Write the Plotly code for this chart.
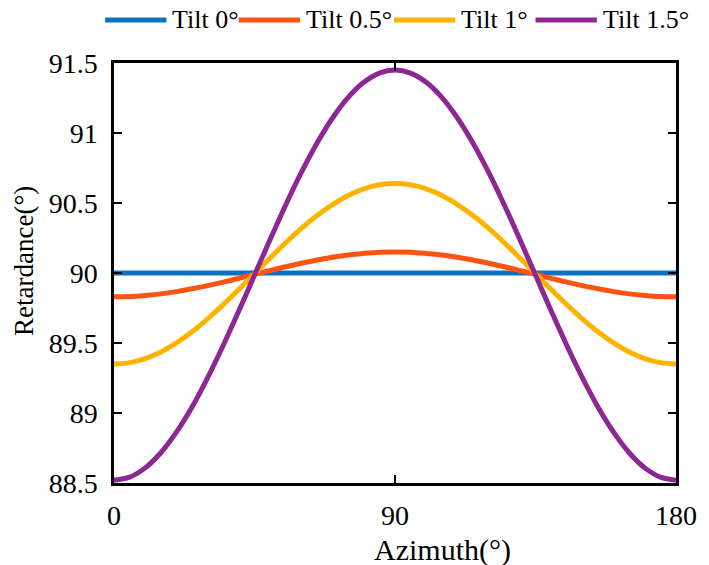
import plotly.graph_objects as go

# Azimuth samples (degrees)
azimuth = [0, 5, 10, 15, 20, 25, 30, 35, 40, 45, 50, 55, 60, 65, 70, 75, 80, 85, 90,
           95, 100, 105, 110, 115, 120, 125, 130, 135, 140, 145, 150, 155, 160, 165,
           170, 175, 180]

# Retardance (degrees) for each tilt angle
tilt_0 = [90.0] * 37
tilt_05 = [89.830, 89.832, 89.840, 89.851, 89.867, 89.887, 89.910, 89.935, 89.962,
           89.990, 90.018, 90.045, 90.070, 90.093, 90.113, 90.129, 90.140, 90.148,
           90.150, 90.148, 90.140, 90.129, 90.113, 90.093, 90.070, 90.045, 90.018,
           89.990, 89.962, 89.935, 89.910, 89.887, 89.867, 89.851, 89.840, 89.832,
           89.830]
tilt_1 = [89.350, 89.360, 89.389, 89.436, 89.501, 89.580, 89.673, 89.774, 89.883,
          89.995, 90.107, 90.216, 90.318, 90.410, 90.489, 90.554, 90.601, 90.630,
          90.640, 90.630, 90.601, 90.554, 90.489, 90.410, 90.318, 90.216, 90.107,
          89.995, 89.883, 89.774, 89.673, 89.580, 89.501, 89.436, 89.389, 89.360,
          89.350]
tilt_15 = [88.520, 88.542, 88.608, 88.716, 88.863, 89.043, 89.253, 89.484, 89.731,
           89.985, 90.239, 90.486, 90.718, 90.927, 91.107, 91.254, 91.362, 91.428,
           91.450, 91.428, 91.362, 91.254, 91.107, 90.927, 90.718, 90.486, 90.239,
           89.985, 89.731, 89.484, 89.253, 89.043, 88.863, 88.716, 88.608, 88.542,
           88.520]

series_names = ["Tilt 0°", "Tilt 0.5°", "Tilt 1°", "Tilt 1.5°"]
series_values = [tilt_0, tilt_05, tilt_1, tilt_15]
series_colors = ["#0A72C0", "#FF5312", "#FFB300", "#8C2794"]

x_ticks = [0, 90, 180]
y_ticks = [88.5, 89, 89.5, 90, 90.5, 91, 91.5]
y_ticktext = ["88.5", "89", "89.5", "90", "90.5", "91", "91.5"]

W, H = 709, 565
ML, MR, MT, MB = 114, 27, 63, 82
plot_w = W - ML - MR
plot_h = H - MT - MB

font_family = "Liberation Serif"

fig = go.Figure()
for name, vals, color in zip(series_names, series_values, series_colors):
    fig.add_trace(go.Scatter(
        x=azimuth, y=vals, name=name, mode="lines", showlegend=False,
        line=dict(color=color, width=5, shape="spline"),
    ))


def px_x(p):
    return (p - ML) / plot_w


def px_y(p):
    return 1 - (p - MT) / plot_h


# Legend row above the axes: a short coloured stroke followed by its label
legend_starts_px = [105, 240, 397, 540]
legend_y_px = 20
stroke_px = 62

for name, color, x0 in zip(series_names, series_colors, legend_starts_px):
    fig.add_shape(
        type="line", xref="paper", yref="paper",
        x0=px_x(x0), x1=px_x(x0 + stroke_px),
        y0=px_y(legend_y_px), y1=px_y(legend_y_px),
        line=dict(color=color, width=5),
    )
    fig.add_annotation(
        xref="paper", yref="paper", x=px_x(x0 + stroke_px + 4),
        y=px_y(legend_y_px), text=name, showarrow=False,
        xanchor="left", yanchor="middle",
        font=dict(family=font_family, size=26, color="black"),
    )

# Axis titles
fig.add_annotation(
    xref="paper", yref="paper", x=px_x(446), y=px_y(550), text="Azimuth(°)",
    showarrow=False, xanchor="center", yanchor="middle",
    font=dict(family=font_family, size=30, color="black"),
)
fig.add_annotation(
    xref="paper", yref="paper", x=px_x(23), y=px_y(261), text="Retardance(°)",
    showarrow=False, xanchor="center", yanchor="middle", textangle=-90,
    font=dict(family=font_family, size=27, color="black"),
)

fig.update_layout(
    width=W, height=H,
    margin=dict(l=ML, r=MR, t=MT, b=MB),
    paper_bgcolor="white", plot_bgcolor="white",
    font=dict(family=font_family, size=28, color="black"),
    showlegend=False,
    xaxis=dict(
        range=[0, 180], tickvals=x_ticks, ticks="inside", ticklen=8,
        tickwidth=1.5, tickcolor="black", showline=True, linewidth=2.5,
        linecolor="black", mirror="ticks", showgrid=False, zeroline=False,
        ticklabelstandoff=6,
    ),
    yaxis=dict(
        range=[88.5, 91.5], tickvals=y_ticks, ticktext=y_ticktext,
        ticks="inside", ticklen=8, tickwidth=1.5, tickcolor="black",
        showline=True, linewidth=2.5, linecolor="black", mirror="ticks",
        showgrid=False, zeroline=False, ticklabelstandoff=8,
    ),
)

fig.write_html("out.html")
